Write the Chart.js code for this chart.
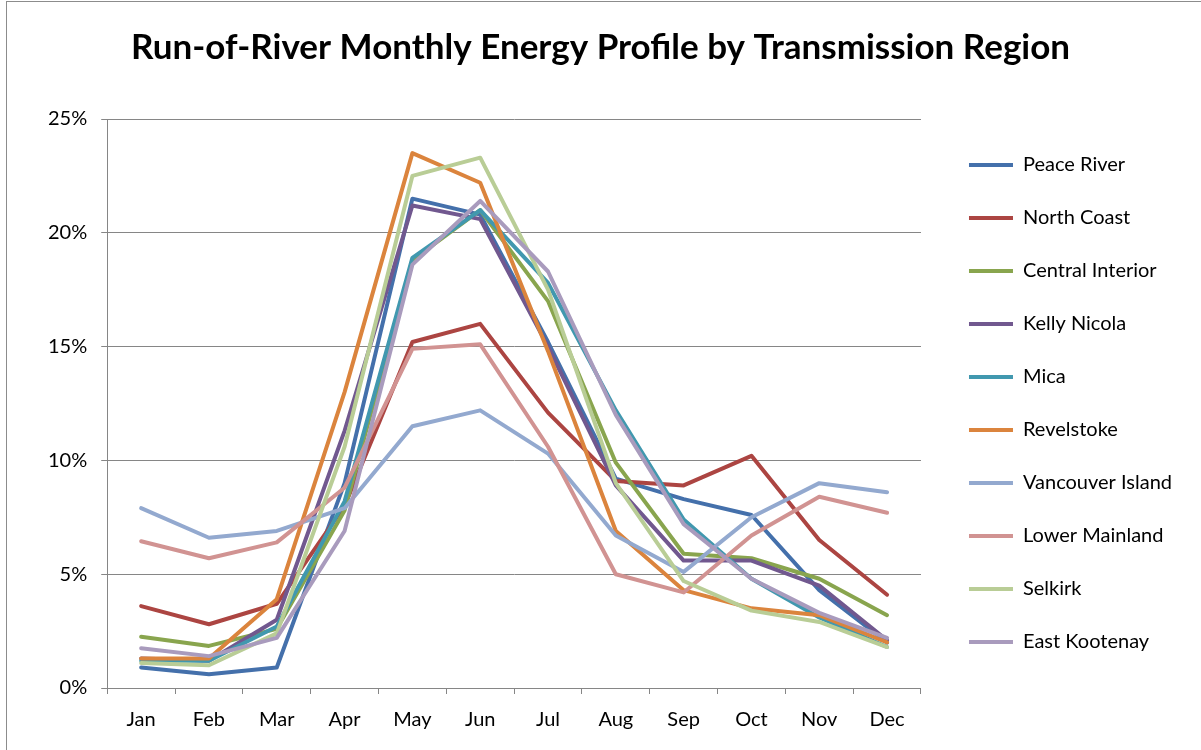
<!DOCTYPE html>
<html>
<head>
<meta charset="utf-8">
<script src="https://cdn.jsdelivr.net/npm/chart.js@4/dist/chart.umd.min.js"></script>
<style>
  html, body { margin: 0; padding: 0; background: #fff; }
  #wrap { width: 1201px; height: 750px; }
</style>
</head>
<body>
<div id="wrap"><canvas id="profile"></canvas></div>
<script>
var months = ['Jan','Feb','Mar','Apr','May','Jun','Jul','Aug','Sep','Oct','Nov','Dec'];

var peaceRiver      = [0.9, 0.6, 0.9, 9.0, 21.5, 20.8, 15.2, 9.2, 8.3, 7.6, 4.3, 2.0];
var northCoast      = [3.6, 2.8, 3.7, 8.0, 15.2, 16.0, 12.1, 9.1, 8.9, 10.2, 6.5, 4.1];
var centralInterior = [2.25, 1.85, 2.6, 7.8, 18.8, 21.0, 17.0, 9.9, 5.9, 5.7, 4.8, 3.2];
var kellyNicola     = [1.3, 1.2, 3.0, 11.3, 21.2, 20.6, 15.0, 8.9, 5.6, 5.6, 4.5, 2.1];
var mica            = [1.2, 1.2, 2.7, 8.2, 18.9, 21.0, 17.8, 12.2, 7.4, 4.8, 3.1, 1.8];
var revelstoke      = [1.3, 1.3, 3.9, 13.0, 23.5, 22.2, 14.8, 6.9, 4.3, 3.5, 3.2, 2.0];
var vancouverIsland = [7.9, 6.6, 6.9, 7.9, 11.5, 12.2, 10.3, 6.7, 5.1, 7.5, 9.0, 8.6];
var lowerMainland   = [6.45, 5.7, 6.4, 8.8, 14.9, 15.1, 10.6, 5.0, 4.2, 6.7, 8.4, 7.7];
var selkirk         = [1.1, 1.0, 2.4, 10.6, 22.5, 23.3, 17.5, 9.0, 4.7, 3.4, 2.9, 1.8];
var eastKootenay    = [1.75, 1.4, 2.2, 6.9, 18.6, 21.4, 18.3, 12.0, 7.2, 4.8, 3.3, 2.2];

var regions = ['Peace River','North Coast','Central Interior','Kelly Nicola','Mica',
               'Revelstoke','Vancouver Island','Lower Mainland','Selkirk','East Kootenay'];
var series  = [peaceRiver, northCoast, centralInterior, kellyNicola, mica,
               revelstoke, vancouverIsland, lowerMainland, selkirk, eastKootenay];
var colors  = ['#4470AB','#AC4542','#89A54E','#71588F','#4198AF',
               '#DB843D','#93A9CF','#D19392','#B9CD96','#A99BBD'];
var yTicks  = [0, 5, 10, 15, 20, 25];

var FONT = 'Lato, "Open Sans", sans-serif';
var GRID = '#868686';

// outer frame of the chart object + nudge legend right a bit
var frame = {
  id: 'frame',
  afterLayout: function (chart) {
    chart.legend.left += 15;
    chart.legend.right += 15;
  },
  afterDraw: function (chart) {
    var c = chart.ctx;
    c.save();
    c.strokeStyle = '#8c8c8c';
    c.lineWidth = 1;
    c.strokeRect(6.5, 1.5, 1200, 760);
    c.restore();
  }
};

var datasets = regions.map(function (name, i) {
  return {
    label: name,
    data: series[i],
    borderColor: colors[i],
    backgroundColor: colors[i],
    borderWidth: 4,
    borderCapStyle: 'round',
    borderJoinStyle: 'round',
    pointRadius: 0,
    pointHoverRadius: 0,
    tension: 0,
    fill: false,
    order: regions.length - i
  };
});

new Chart(document.getElementById('profile'), {
  type: 'line',
  data: { labels: months, datasets: datasets },
  plugins: [frame],
  options: {
    responsive: true,
    maintainAspectRatio: false,
    animation: false,
    layout: { padding: { top: 10, left: 34, right: 34, bottom: 4 } },
    plugins: {
      title: {
        display: true,
        text: 'Run-of-River Monthly Energy Profile by Transmission Region',
        color: '#000',
        font: { family: FONT, size: 35, weight: 'bold' },
        padding: { top: 17, bottom: 50 }
      },
      legend: {
        position: 'right',
        fullSize: false,
        labels: {
          usePointStyle: true,
          pointStyle: 'line',
          pointStyleWidth: 44,
          padding: 33,
          color: '#000',
          font: { family: FONT, size: 20 },
          sort: function (a, b) { return a.datasetIndex - b.datasetIndex; }
        }
      },
      tooltip: { enabled: false }
    },
    scales: {
      x: {
        offset: true,
        border: { color: GRID, width: 1 },
        grid: { offset: true, drawOnChartArea: false, drawTicks: true, tickLength: 6, color: GRID },
        ticks: { color: '#000', padding: 14, maxRotation: 0, font: { family: FONT, size: 20 } }
      },
      y: {
        min: 0,
        max: 25,
        afterBuildTicks: function (axis) {
          axis.ticks = yTicks.map(function (v) { return { value: v }; });
        },
        border: { color: GRID, width: 1 },
        grid: { color: GRID, lineWidth: 1, tickLength: 6 },
        ticks: {
          color: '#000',
          padding: 14,
          font: { family: FONT, size: 20 },
          callback: function (v) { return v + '%'; }
        }
      }
    }
  }
});
</script>
</body>
</html>
